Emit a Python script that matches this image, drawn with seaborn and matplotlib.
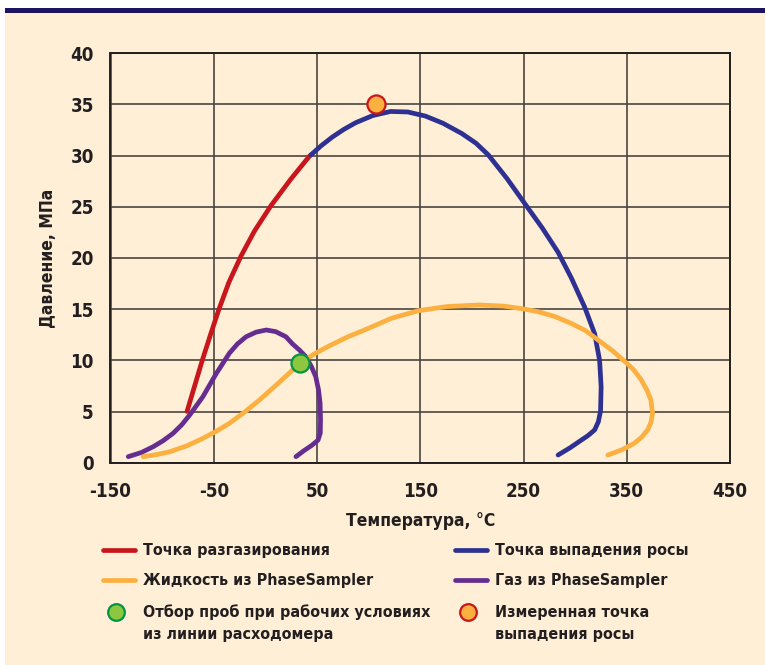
import matplotlib
matplotlib.use("Agg")
import matplotlib.pyplot as plt
from matplotlib.lines import Line2D
from matplotlib.patches import Rectangle
import seaborn as sns
import pandas as pd

# CURVE DATA (temperature, C / pressure, MPa)
bubble_t = [-75.9, -68.5, -61.1, -53, -45.1, -35.4, -23.5, -10.7, 5.4, 24.7, 42.4, 44]
bubble_p = [5.0, 7.5, 10.0, 12.55, 14.95, 17.6, 20.2, 22.6, 25.1, 27.7, 29.9, 30.05]

dew_t = [44, 54, 64.8, 76, 87.4, 104, 121.2, 138, 155, 172, 190.2, 204, 216, 234,
         252, 268, 283.5, 296.3, 309.2, 318.9, 323.7, 325.2, 324.6, 322.5, 318.9,
         312.5, 305.9, 295, 283.5]
dew_p = [30.05, 30.95, 31.8, 32.55, 33.2, 33.9, 34.3, 34.25, 33.85, 33.15, 32.15, 31.2, 30.05, 27.75,
         25.2, 22.95, 20.55, 18.05, 15.2, 12.6, 10.0, 7.4, 5.05, 4.0, 3.2,
         2.65, 2.2, 1.45, 0.75]

liquid_t = [-118.4, -105, -92.6, -76, -60.5, -47, -34.8, -20, -5.8, 13.5, 32.7, 47, 61.7,
            80, 97, 122, 148.5, 176, 206.3, 230, 248, 264.2, 281, 296.3, 310, 322, 336,
            348.4, 356.5, 363.8, 369.5, 373.4, 375, 373.5, 370.3, 364.5, 357.4, 345, 331.7]
liquid_p = [0.59, 0.8, 1.07, 1.65, 2.38, 3.1, 3.85, 4.95, 6.12, 7.85, 9.65, 10.6, 11.4,
            12.3, 13.0, 14.1, 14.85, 15.25, 15.4, 15.3, 15.05, 14.75, 14.25, 13.6, 12.9, 12.0, 10.95,
            9.86, 9.1, 8.12, 7.1, 6.12, 4.82, 3.95, 3.2, 2.5, 1.9, 1.25, 0.75]

gas_t = [-132.8, -120, -108.7, -99, -89.4, -81, -73.3, -60.5, -47.6, -41.2, -34.8, -27,
         -18.7, -9, 0.9, 10, 19.9, 26.3, 33, 39.2, 44.5, 48.8, 51.5, 53, 53.4, 53.2,
         51, 45, 37, 29.6]
gas_p = [0.59, 1.0, 1.56, 2.15, 2.87, 3.7, 4.66, 6.45, 8.7, 9.7, 10.7, 11.6,
         12.3, 12.75, 12.96, 12.8, 12.3, 11.6, 11.0, 10.35, 9.4, 8.4, 7.1, 5.8, 4.3, 2.9,
         2.2, 1.7, 1.15, 0.59]

sample_t = [33.7]
sample_p = [9.77]
measured_t = [106.7]
measured_p = [35.0]

x_ticks = [-150, -50, 50, 150, 250, 350, 450]
y_ticks = [0, 5, 10, 15, 20, 25, 30, 35, 40]

labels_left = [["Точка разгазирования"], ["Жидкость из PhaseSampler"],
               ["Отбор проб при рабочих условиях", "из линии расходомера"]]
labels_right = [["Точка выпадения росы"], ["Газ из PhaseSampler"],
                ["Измеренная точка", "выпадения росы"]]

# COLORS
RED = "#c8161d"
BLUE = "#2e3192"
ORANGE = "#fbb040"
PURPLE = "#662d91"
GREEN = "#8dc63f"
GREEN_EDGE = "#009444"
CREAM = "#ffefd6"
TEXT = "#231f20"

sns.set_theme(style="white")
plt.rcParams["font.family"] = ["DejaVu Sans"]
plt.rcParams["font.stretch"] = "condensed"
plt.rcParams["font.weight"] = "bold"

fig = plt.figure(figsize=(7.65, 6.65), dpi=100, facecolor="white")
W, H = 765, 665

# background panel + top bar
fig.patches.append(Rectangle((5 / W, 0), 1, 1 - 13 / H, transform=fig.transFigure,
                             facecolor=CREAM, edgecolor="none", zorder=-10))
fig.patches.append(Rectangle((5 / W, 1 - 13 / H), 1, 5 / H, transform=fig.transFigure,
                             facecolor="#1c1462", edgecolor="none", zorder=-10))

ax = fig.add_axes([110.5 / W, 1 - 462.7 / H, (730 - 110.5) / W, (462.7 - 53.1) / H])
ax.set_facecolor(CREAM)

lw = 3.4
curves = [
    (bubble_t, bubble_p, RED),
    (dew_t, dew_p, BLUE),
    (gas_t, gas_p, PURPLE),
    (liquid_t, liquid_p, ORANGE),
]
for t, p, c in curves:
    df = pd.DataFrame({"t": t, "p": p})
    sns.lineplot(data=df, x="t", y="p", sort=False, estimator=None, color=c,
                 linewidth=lw, ax=ax, zorder=3, solid_joinstyle="round")

sns.scatterplot(x=sample_t, y=sample_p, s=170, color=GREEN, edgecolor=GREEN_EDGE,
                linewidth=1.6, ax=ax, zorder=5)
sns.scatterplot(x=measured_t, y=measured_p, s=170, color=ORANGE, edgecolor=RED,
                linewidth=1.6, ax=ax, zorder=5)

ax.set_xlim(-150, 450)
ax.set_ylim(0, 40)
ax.set_xticks(x_ticks)
ax.set_yticks(y_ticks)
ax.set_xticklabels([str(v) for v in x_ticks])
ax.set_yticklabels([str(v) for v in y_ticks])
ax.tick_params(axis="both", length=0, labelsize=13.5, labelcolor=TEXT)
ax.tick_params(axis="x", pad=14)
ax.tick_params(axis="y", pad=12)

ax.grid(True, color="#4a4540", linewidth=1.2)
ax.set_axisbelow(True)
for s in ax.spines.values():
    s.set_color(TEXT)
    s.set_linewidth(1.4)

ax.set_xlabel("Температура, °C", fontsize=12.5, fontweight="bold", color=TEXT, labelpad=8)
ax.set_ylabel("Давление, МПа", fontsize=12.5, fontweight="bold", color=TEXT, labelpad=10)

# LEGEND
def fy(py):
    return 1 - py / H

rows = [550, 580, 612]
line_gap = 23
left_handles = [("line", RED), ("line", ORANGE), ("dot", (GREEN, GREEN_EDGE))]
right_handles = [("line", BLUE), ("line", PURPLE), ("dot", (ORANGE, RED))]
for col_x, text_x, handles, labels in [(103, 143, left_handles, labels_left),
                                       (455, 495, right_handles, labels_right)]:
    for py, (kind, c), lines in zip(rows, handles, labels):
        if kind == "line":
            fig.add_artist(Line2D([col_x / W, (col_x + 32) / W], [fy(py), fy(py)],
                                  color=c, linewidth=lw, transform=fig.transFigure))
        else:
            fig.add_artist(Line2D([(col_x + 13) / W], [fy(py)], marker="o", markersize=12,
                                  markerfacecolor=c[0], markeredgecolor=c[1],
                                  markeredgewidth=1.6, linestyle="none",
                                  transform=fig.transFigure))
        for i, txt in enumerate(lines):
            fig.text(text_x / W, fy(py + i * line_gap), txt, fontsize=11.5,
                     fontweight="bold", color=TEXT, va="center", ha="left")

fig.savefig("out.png", dpi=100, facecolor=fig.get_facecolor())
